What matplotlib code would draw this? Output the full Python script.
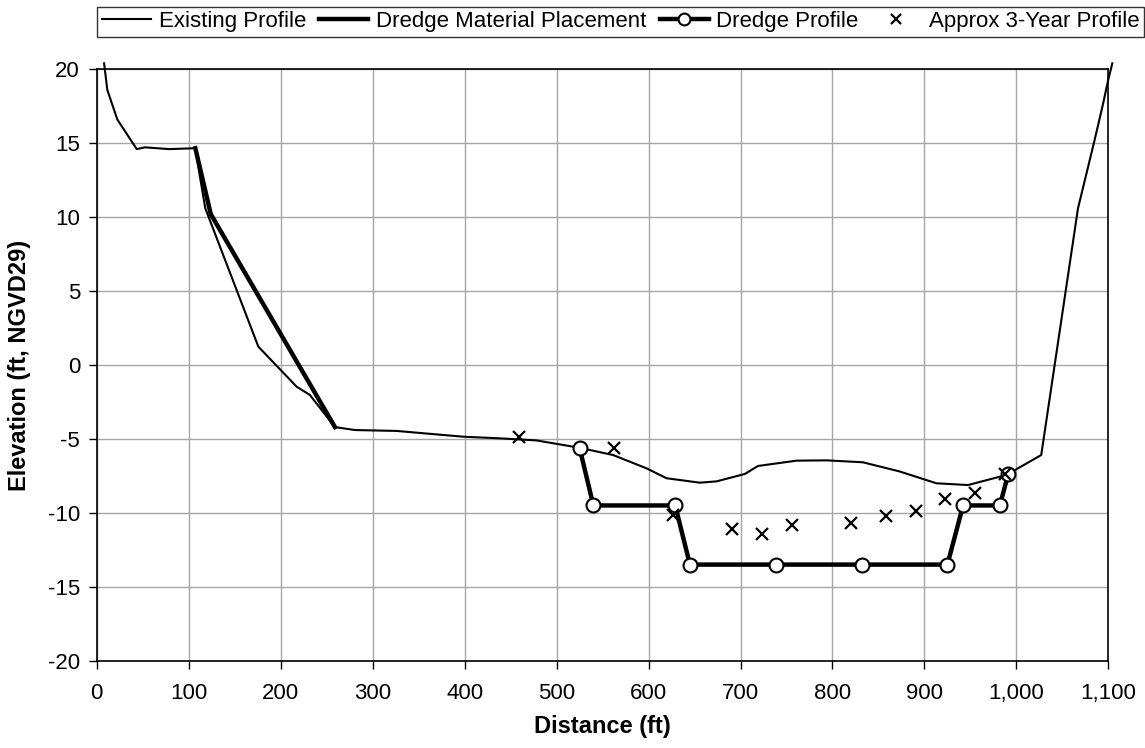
import matplotlib

matplotlib.use("Agg")

import matplotlib.pyplot as plt  # noqa: E402
from matplotlib.ticker import FuncFormatter, MultipleLocator  # noqa: E402

plt.rcParams["font.family"] = ["Liberation Sans", "DejaVu Sans"]
plt.rcParams["axes.unicode_minus"] = False

# existing ground profile
existing_x = [8, 11.5, 22.4, 43.5, 52.5, 78.6, 107.2, 112.3, 118, 175.7, 217.4, 231.8, 259,
              280.8, 326, 398.5, 438, 478, 525, 561.5, 597.8, 619.6, 655.8, 674, 704.7, 719,
              760.9, 793.5, 833, 873, 913, 947.4, 989, 1027, 1067, 1085, 1094, 1099.9, 1104.3]
existing_y = [20.4, 18.6, 16.6, 14.6, 14.72, 14.6, 14.66, 12.7, 10.6, 1.24, -1.47, -2.03, -4.2,
              -4.4, -4.46, -4.85, -4.96, -5.1, -5.6, -6.09, -6.99, -7.66, -7.96, -7.87, -7.37, -6.83,
              -6.47, -6.45, -6.58, -7.2, -8.0, -8.12, -7.44, -6.09, 10.6, 15.2, 17.6, 19.3, 20.4]

# dredge material placement
placement_x = [107.2, 124, 259]
placement_y = [14.66, 10.2, -4.2]

# design dredge profile
dredge_x = [525, 540, 629, 645, 739, 832, 925, 942, 982, 991]
dredge_y = [-5.6, -9.5, -9.5, -13.5, -13.5, -13.5, -13.5, -9.5, -9.5, -7.4]

# approximate 3-year profile
approx_x = [459.3, 562.3, 626.7, 691.2, 723.5, 756, 820.6, 858.7, 890.5, 922.8, 955, 987.3]
approx_y = [-4.85, -5.6, -10.15, -11.1, -11.43, -10.82, -10.66, -10.21, -9.87, -9.06, -8.68, -7.37]

fig = plt.figure(figsize=(11.45, 7.48), dpi=100)
ax = fig.add_axes([0.0845, 0.1167, 0.8835, 0.7907])

ax.plot(existing_x, existing_y, color="black", linewidth=1.5, label="Existing Profile",
        clip_on=False, zorder=3)
ax.plot(placement_x, placement_y, color="black", linewidth=3.2, label="Dredge Material Placement",
        zorder=4)
ax.plot(dredge_x, dredge_y, color="black", linewidth=3.2, marker="o", markersize=10,
        markerfacecolor="white", markeredgecolor="black", markeredgewidth=1.5,
        label="Dredge Profile", zorder=5)
ax.plot(approx_x, approx_y, linestyle="none", marker="x", markersize=8, markeredgewidth=1.6,
        color="black", label="Approx 3-Year Profile", zorder=6)

ax.set_xlim(0, 1100)
ax.set_ylim(-20, 20)
ax.xaxis.set_major_locator(MultipleLocator(100))
ax.yaxis.set_major_locator(MultipleLocator(5))
ax.xaxis.set_major_formatter(FuncFormatter(lambda value, _pos: f"{value:,.0f}"))
ax.grid(True, color="#a6a6a6", linewidth=1.0)
ax.set_axisbelow(True)
for spine in ax.spines.values():
    spine.set_color("black")
    spine.set_linewidth(1.2)
ax.tick_params(axis="both", direction="out", length=6, width=1, labelsize=16, colors="black")
ax.tick_params(axis="x", pad=10)
ax.tick_params(axis="y", pad=6)

ax.set_xlabel("Distance (ft)", fontsize=17, fontweight="bold", labelpad=8)
ax.set_ylabel("Elevation (ft, NGVD29)", fontsize=17, fontweight="bold", labelpad=12)

legend = fig.legend(loc="center", bbox_to_anchor=(0.542, 0.971), ncol=4, fontsize=16,
                    frameon=True, fancybox=False, edgecolor="black", handlelength=2.2,
                    handletextpad=0.35, columnspacing=0.6, borderpad=0.2, borderaxespad=0,
                    numpoints=1, markerscale=0.85)
legend.get_frame().set_linewidth(1.0)

fig.savefig("out.png", dpi=100)
